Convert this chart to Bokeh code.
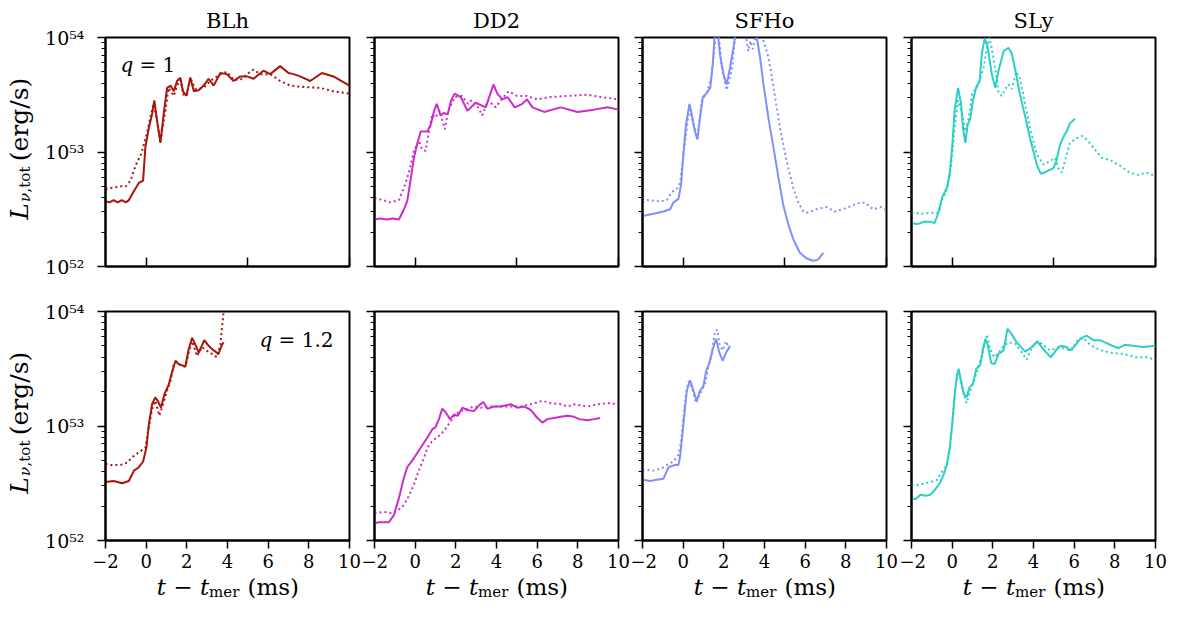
import math
from bokeh.plotting import figure
from bokeh.models import Range1d, FixedTicker, CustomJSTickFormatter, Label
from bokeh.layouts import gridplot
from bokeh.embed import file_html
from bokeh.resources import INLINE

# ---------------- data (t - t_mer in ms, log10 L in erg/s) ----------------
eos_names = ["BLh", "DD2", "SFHo", "SLy"]
eos_colors = ["#a8150c", "#cc2ccc", "#8090f8", "#2ad0c4"]
q_labels = ["1", "1.2"]

x_tick_values = [-2, 0, 2, 4, 6, 8, 10]
x_tick_labels = ["\u22122", "0", "2", "4", "6", "8", "10"]
top_x_ticks = [0, 5, 10]
y_tick_values = [1e52, 1e53, 1e54]
y_tick_labels = ["10\u2075\u00b2", "10\u2075\u00b3", "10\u2075\u2074"]

# q = 1 ---------------------------------------------------------------
blh_q1_t = [-2.0, -1.8, -1.6, -1.4, -1.2, -1.0, -0.85, -0.6, -0.36, -0.15, -0.04, 0.13, 0.29, 0.40, 0.54, 0.70, 0.86, 1.03, 1.20, 1.36, 1.52, 1.68, 1.81, 1.98, 2.17, 2.34, 2.58, 2.83, 3.07, 3.32, 3.65, 3.97, 4.30, 4.63, 4.96, 5.28, 5.77, 6.10, 6.59, 7.00, 7.25, 7.57, 8.07, 8.64, 9.21, 9.70, 10.0]
blh_q1_L = [52.57, 52.56, 52.58, 52.56, 52.58, 52.56, 52.58, 52.66, 52.73, 52.75, 53.04, 53.21, 53.33, 53.45, 53.27, 53.08, 53.33, 53.56, 53.58, 53.53, 53.62, 53.65, 53.53, 53.49, 53.65, 53.53, 53.54, 53.58, 53.64, 53.58, 53.69, 53.68, 53.62, 53.66, 53.66, 53.64, 53.71, 53.68, 53.75, 53.69, 53.68, 53.66, 53.62, 53.69, 53.66, 53.61, 53.58]
blh_q1_t_d = [-2.0, -1.6, -1.2, -1.0, -0.77, -0.6, -0.45, -0.25, 0.05, 0.2, 0.37, 0.55, 0.70, 0.95, 1.1, 1.36, 1.52, 1.68, 1.85, 2.0, 2.17, 2.42, 2.83, 3.15, 3.65, 3.97, 4.3, 4.63, 4.96, 5.28, 5.6, 6.1, 6.59, 7.08, 7.57, 8.56, 9.21, 10.0]
blh_q1_L_d = [52.675, 52.69, 52.70, 52.70, 52.75, 52.84, 52.91, 52.98, 53.17, 53.30, 53.42, 53.25, 53.10, 53.36, 53.56, 53.49, 53.58, 53.63, 53.49, 53.50, 53.65, 53.55, 53.56, 53.62, 53.68, 53.70, 53.63, 53.63, 53.68, 53.72, 53.68, 53.68, 53.62, 53.58, 53.57, 53.56, 53.53, 53.51]

dd2_q1_t = [-2.0, -1.7, -1.4, -1.1, -0.8, -0.55, -0.39, -0.23, -0.06, 0.10, 0.27, 0.6, 0.77, 0.93, 1.06, 1.25, 1.4, 1.6, 1.77, 1.94, 2.24, 2.57, 2.98, 3.47, 3.85, 4.04, 4.29, 4.54, 4.9, 5.27, 5.5, 5.77, 6.34, 7.16, 7.98, 8.8, 9.46, 10.0]
dd2_q1_L = [52.41, 52.42, 52.41, 52.42, 52.41, 52.50, 52.57, 52.75, 52.95, 53.07, 53.18, 53.18, 53.24, 53.36, 53.42, 53.32, 53.34, 53.33, 53.45, 53.51, 53.48, 53.36, 53.43, 53.39, 53.59, 53.51, 53.46, 53.48, 53.39, 53.42, 53.46, 53.39, 53.35, 53.39, 53.35, 53.37, 53.39, 53.37]
dd2_q1_t_d = [-2.0, -1.6, -1.21, -0.8, -0.55, -0.31, -0.06, 0.18, 0.35, 0.51, 0.67, 0.84, 1.0, 1.2, 1.46, 1.62, 1.95, 2.3, 2.6, 2.77, 3.1, 3.3, 3.58, 3.96, 4.25, 4.6, 5.0, 5.5, 6.0, 6.65, 7.5, 8.48, 9.13, 10.0]
dd2_q1_L_d = [52.60, 52.58, 52.56, 52.58, 52.69, 52.82, 53.01, 53.10, 53.02, 53.01, 53.17, 53.33, 53.30, 53.36, 53.20, 53.36, 53.48, 53.49, 53.42, 53.45, 53.39, 53.32, 53.45, 53.39, 53.46, 53.53, 53.49, 53.49, 53.46, 53.48, 53.49, 53.50, 53.48, 53.46]

sfho_q1_t = [-2.0, -1.46, -0.97, -0.64, -0.48, -0.23, -0.1, 0.01, 0.14, 0.31, 0.42, 0.59, 0.70, 0.83, 0.97, 1.13, 1.33, 1.46, 1.54, 1.62, 1.7, 1.81, 1.98, 2.14, 2.31, 2.47, 2.55, 2.7, 3.0, 3.3, 3.55, 3.62, 3.78, 3.95, 4.19, 4.44, 4.68, 4.92, 5.17, 5.41, 5.74, 6.07, 6.4, 6.64, 6.89]
sfho_q1_L = [52.44, 52.46, 52.48, 52.50, 52.56, 52.59, 52.72, 52.98, 53.24, 53.42, 53.33, 53.17, 53.11, 53.30, 53.48, 53.51, 53.56, 53.77, 54.0, 54.1, 54.05, 53.85, 53.68, 53.59, 53.74, 53.91, 54.0, 54.15, 54.2, 54.15, 54.05, 54.0, 53.83, 53.59, 53.30, 53.04, 52.78, 52.54, 52.37, 52.24, 52.12, 52.07, 52.05, 52.06, 52.12]
sfho_q1_t_d = [-2.0, -1.8, -1.13, -0.8, -0.56, -0.31, -0.15, 0.1, 0.31, 0.51, 0.70, 0.91, 1.15, 1.38, 1.6, 1.72, 1.9, 2.14, 2.39, 2.55, 2.8, 3.05, 3.2, 3.31, 3.42, 3.56, 3.75, 3.9, 4.19, 4.44, 4.76, 5.09, 5.41, 5.66, 5.91, 6.15, 6.56, 7.05, 7.46, 8.03, 8.52, 8.93, 9.34, 9.75, 10.0]
sfho_q1_L_d = [52.56, 52.58, 52.57, 52.58, 52.65, 52.68, 52.73, 53.10, 53.39, 53.24, 53.13, 53.45, 53.51, 53.65, 54.0, 54.08, 53.74, 53.54, 53.71, 54.0, 54.15, 54.05, 53.88, 53.97, 53.90, 54.0, 54.08, 54.0, 53.83, 53.57, 53.21, 52.92, 52.69, 52.56, 52.48, 52.47, 52.50, 52.52, 52.48, 52.51, 52.55, 52.56, 52.50, 52.52, 52.49]

sly_q1_t = [-2.0, -1.72, -1.4, -1.07, -0.86, -0.66, -0.5, -0.25, -0.12, 0.0, 0.12, 0.29, 0.44, 0.53, 0.65, 0.76, 0.89, 1.02, 1.19, 1.35, 1.46, 1.6, 1.74, 1.95, 2.12, 2.28, 2.53, 2.77, 2.93, 3.1, 3.34, 3.59, 3.83, 4.16, 4.36, 4.65, 4.98, 5.14, 5.3, 5.47, 5.63, 5.79, 6.04]
sly_q1_L = [52.38, 52.37, 52.39, 52.39, 52.38, 52.48, 52.60, 52.69, 52.81, 53.04, 53.36, 53.56, 53.42, 53.21, 53.08, 53.24, 53.29, 53.45, 53.57, 53.62, 53.86, 53.99, 53.92, 53.68, 53.56, 53.71, 53.88, 53.91, 53.86, 53.72, 53.50, 53.31, 53.12, 52.89, 52.81, 52.83, 52.86, 52.93, 53.06, 53.13, 53.18, 53.25, 53.29]
sly_q1_t_d = [-2.0, -1.56, -1.07, -0.66, -0.5, -0.25, -0.07, 0.12, 0.29, 0.49, 0.65, 0.81, 0.97, 1.14, 1.3, 1.55, 1.71, 1.84, 1.95, 2.12, 2.28, 2.44, 2.61, 2.77, 2.93, 3.15, 3.34, 3.59, 3.83, 4.16, 4.49, 4.82, 5.06, 5.22, 5.39, 5.56, 5.79, 6.12, 6.37, 6.61, 6.94, 7.35, 7.76, 8.25, 8.74, 9.14, 9.55, 10.0]
sly_q1_L_d = [52.47, 52.46, 52.47, 52.47, 52.58, 52.68, 52.86, 53.21, 53.45, 53.33, 53.18, 53.29, 53.50, 53.55, 53.59, 53.74, 53.91, 54.0, 53.90, 53.72, 53.52, 53.49, 53.55, 53.59, 53.55, 53.70, 53.64, 53.42, 53.21, 52.98, 52.89, 52.92, 52.95, 52.86, 52.82, 52.93, 53.08, 53.12, 53.14, 53.11, 53.04, 52.95, 52.93, 52.88, 52.82, 52.80, 52.82, 52.79]

# q = 1.2 -------------------------------------------------------------
blh_q12_t = [-2.0, -1.6, -1.18, -0.85, -0.6, -0.36, -0.15, 0.01, 0.13, 0.29, 0.45, 0.57, 0.73, 0.90, 1.11, 1.27, 1.44, 1.6, 1.76, 1.93, 2.09, 2.26, 2.42, 2.58, 2.71, 2.86, 3.07, 3.32, 3.56, 3.73, 3.81]
blh_q12_L = [52.51, 52.52, 52.50, 52.52, 52.61, 52.64, 52.69, 52.81, 53.01, 53.19, 53.25, 53.22, 53.16, 53.28, 53.36, 53.47, 53.57, 53.54, 53.53, 53.52, 53.67, 53.77, 53.71, 53.64, 53.69, 53.75, 53.70, 53.66, 53.63, 53.71, 53.73]
blh_q12_t_d = [-2.0, -1.75, -1.26, -0.94, -0.6, -0.28, -0.04, 0.13, 0.29, 0.45, 0.65, 0.83, 1.03, 1.19, 1.36, 1.52, 1.76, 1.93, 2.09, 2.26, 2.5, 2.75, 2.96, 3.24, 3.48, 3.65, 3.73, 3.81, 3.86]
blh_q12_L_d = [52.67, 52.66, 52.66, 52.68, 52.74, 52.78, 52.81, 52.99, 53.15, 53.22, 53.09, 53.19, 53.31, 53.39, 53.54, 53.56, 53.52, 53.52, 53.64, 53.74, 53.61, 53.69, 53.66, 53.63, 53.60, 53.71, 53.86, 54.0, 54.1]

dd2_q12_t = [-2.0, -1.8, -1.29, -1.05, -0.8, -0.55, -0.39, -0.06, 0.27, 0.6, 0.84, 1.0, 1.17, 1.33, 1.5, 1.71, 1.91, 2.1, 2.32, 2.56, 2.89, 3.14, 3.35, 3.55, 3.88, 4.2, 4.7, 5.03, 5.36, 5.68, 6.01, 6.26, 6.5, 6.83, 7.16, 7.49, 7.82, 8.07, 8.48, 8.8, 9.1]
dd2_q12_L = [52.15, 52.16, 52.16, 52.22, 52.37, 52.55, 52.64, 52.72, 52.81, 52.90, 52.97, 52.99, 53.06, 53.15, 53.12, 53.06, 53.10, 53.09, 53.16, 53.14, 53.13, 53.18, 53.21, 53.15, 53.17, 53.17, 53.19, 53.16, 53.17, 53.14, 53.07, 53.03, 53.06, 53.07, 53.08, 53.09, 53.08, 53.06, 53.05, 53.06, 53.07]
dd2_q12_t_d = [-2.0, -1.55, -1.13, -0.88, -0.55, -0.31, -0.06, 0.18, 0.43, 0.6, 0.84, 1.09, 1.33, 1.55, 1.74, 1.96, 2.23, 2.56, 2.89, 3.22, 3.55, 3.88, 4.2, 4.7, 5.2, 5.68, 6.26, 6.67, 7.16, 7.49, 7.82, 8.48, 8.97, 9.46, 10.0]
dd2_q12_L_d = [52.24, 52.25, 52.24, 52.26, 52.31, 52.39, 52.49, 52.61, 52.72, 52.81, 52.87, 52.90, 52.94, 52.99, 53.04, 53.10, 53.13, 53.15, 53.17, 53.16, 53.17, 53.17, 53.17, 53.17, 53.17, 53.19, 53.22, 53.20, 53.19, 53.17, 53.19, 53.17, 53.19, 53.20, 53.19]

sfho_q12_t = [-2.0, -1.62, -1.3, -0.97, -0.72, -0.4, -0.23, -0.15, -0.07, 0.06, 0.18, 0.34, 0.5, 0.67, 0.83, 1.0, 1.13, 1.29, 1.45, 1.62, 1.78, 1.94, 2.11, 2.3]
sfho_q12_L = [52.53, 52.52, 52.53, 52.54, 52.64, 52.66, 52.66, 52.74, 52.87, 53.10, 53.31, 53.40, 53.31, 53.22, 53.31, 53.35, 53.48, 53.55, 53.67, 53.76, 53.64, 53.57, 53.64, 53.70]
sfho_q12_t_d = [-2.0, -1.46, -1.05, -0.8, -0.48, -0.23, -0.1, 0.01, 0.14, 0.26, 0.42, 0.64, 0.83, 1.08, 1.24, 1.4, 1.57, 1.68, 1.78, 1.94, 2.11, 2.27]
sfho_q12_L_d = [52.62, 52.61, 52.63, 52.66, 52.69, 52.75, 52.87, 53.07, 53.28, 53.39, 53.34, 53.20, 53.28, 53.37, 53.52, 53.62, 53.83, 53.84, 53.72, 53.66, 53.74, 53.67]

sly_q12_t = [-2.0, -1.8, -1.56, -1.31, -1.07, -0.82, -0.61, -0.41, -0.25, -0.12, 0.0, 0.13, 0.24, 0.32, 0.44, 0.57, 0.70, 0.86, 1.02, 1.19, 1.38, 1.51, 1.63, 1.76, 1.92, 2.09, 2.28, 2.53, 2.72, 2.93, 3.18, 3.59, 3.92, 4.19, 4.49, 4.85, 5.14, 5.34, 5.63, 5.79, 6.04, 6.29, 6.61, 6.94, 7.27, 7.76, 8.17, 8.5, 8.9, 9.39, 10.0]
sly_q12_L = [52.37, 52.36, 52.40, 52.39, 52.40, 52.45, 52.50, 52.58, 52.67, 52.81, 53.01, 53.28, 53.45, 53.50, 53.39, 53.28, 53.25, 53.34, 53.37, 53.50, 53.53, 53.67, 53.76, 53.70, 53.55, 53.54, 53.63, 53.66, 53.85, 53.80, 53.73, 53.65, 53.69, 53.74, 53.67, 53.60, 53.67, 53.70, 53.69, 53.66, 53.70, 53.76, 53.79, 53.75, 53.75, 53.71, 53.68, 53.71, 53.70, 53.69, 53.70]
sly_q12_t_d = [-2.0, -1.56, -1.07, -0.74, -0.5, -0.25, -0.12, 0.03, 0.16, 0.32, 0.54, 0.70, 0.90, 1.09, 1.30, 1.51, 1.71, 1.87, 2.07, 2.28, 2.53, 2.77, 3.10, 3.43, 3.67, 3.92, 4.24, 4.52, 4.82, 5.23, 5.63, 5.87, 6.12, 6.45, 6.78, 7.19, 7.76, 8.41, 9.06, 9.55, 10.0]
sly_q12_L_d = [52.48, 52.49, 52.51, 52.53, 52.60, 52.66, 52.79, 53.07, 53.34, 53.48, 53.31, 53.20, 53.31, 53.40, 53.52, 53.64, 53.80, 53.67, 53.60, 53.64, 53.70, 53.73, 53.72, 53.64, 53.58, 53.69, 53.74, 53.70, 53.66, 53.69, 53.67, 53.66, 53.74, 53.77, 53.71, 53.67, 53.64, 53.63, 53.60, 53.60, 53.58]

series = [
    [(blh_q1_t, blh_q1_L, blh_q1_t_d, blh_q1_L_d),
     (dd2_q1_t, dd2_q1_L, dd2_q1_t_d, dd2_q1_L_d),
     (sfho_q1_t, sfho_q1_L, sfho_q1_t_d, sfho_q1_L_d),
     (sly_q1_t, sly_q1_L, sly_q1_t_d, sly_q1_L_d)],
    [(blh_q12_t, blh_q12_L, blh_q12_t_d, blh_q12_L_d),
     (dd2_q12_t, dd2_q12_L, dd2_q12_t_d, dd2_q12_L_d),
     (sfho_q12_t, sfho_q12_L, sfho_q12_t_d, sfho_q12_L_d),
     (sly_q12_t, sly_q12_L, sly_q12_t_d, sly_q12_L_d)],
]

# ---------------- layout ----------------
FONT = "DejaVu Serif"
FW, FH = 244, 229
YLAB_W = 40          # width of the strip that carries the y-axis title
XLAB_H = 40          # height of the strip that carries the x-axis titles
col_left = [65, 13, 12, 12]
col_right = [12, 12, 13, 14]
row_top = [37, 25]
row_bottom = [20, 34]
DY = 7               # measured baseline correction of Label text

y_minor = [k * 10.0 ** e for e in (52, 53) for k in range(2, 10)]

fmt_code = """
const i = vals.findIndex(v => Math.abs(v - tick) <= 1e-6 * Math.max(1, Math.abs(v)));
return i >= 0 ? labs[i] : '';
"""


def add_label(p, x, y, text, size, style="normal", align="left", angle=0.0, baseline="alphabetic"):
    p.add_layout(Label(x=x, y=y, x_units="screen", y_units="screen", text=text,
                       text_font=FONT, text_font_size=f"{size}px",
                       text_font_style=style, text_align=align,
                       text_baseline=baseline, angle=angle,
                       text_color="black"))


def blank(frame_w, frame_h, left, right, top, bottom):
    b = figure(frame_width=frame_w, frame_height=frame_h,
               x_range=Range1d(0, 1), y_range=Range1d(0, 1),
               x_axis_location=None, y_axis_location=None,
               output_backend="svg", toolbar_location=None, title=None,
               min_border_left=left, min_border_right=right,
               min_border_top=top, min_border_bottom=bottom)
    b.xgrid.visible = False
    b.ygrid.visible = False
    b.outline_line_color = None
    b.background_fill_color = "white"
    b.border_fill_color = "white"
    return b


rows = []
for r in range(2):
    # strip with the rotated y-axis title (pieces centred on their own midpoints)
    yl = blank(YLAB_W, FH, 0, 0, row_top[r], row_bottom[r])
    a = math.pi / 2
    add_label(yl, 18.5, 55, "L", 25, style="italic", align="center", angle=a, baseline="middle")
    add_label(yl, 24.5, 69, "\u03bd", 15, style="italic", align="center", angle=a, baseline="middle")
    add_label(yl, 24.5, 87, ",tot", 15, align="center", angle=a, baseline="middle")
    add_label(yl, 18.5, 147, "(erg/s)", 25, align="center", angle=a, baseline="middle")
    row_figs = [yl]
    for c in range(4):
        p = figure(frame_width=FW, frame_height=FH,
                   x_range=Range1d(-2, 10), y_range=Range1d(1e52, 1e54),
                   y_axis_type="log", output_backend="svg",
                   toolbar_location=None,
                   title=(eos_names[c] if r == 0 else None),
                   min_border_left=col_left[c], min_border_right=col_right[c],
                   min_border_top=row_top[r], min_border_bottom=row_bottom[r])
        if r == 0:
            p.title.align = "center"
            p.title.text_font = FONT
            p.title.text_font_size = "21px"
            p.title.text_font_style = "normal"
            p.title.text_color = "black"
            p.title.standoff = 10
        p.xgrid.visible = False
        p.ygrid.visible = False
        p.outline_line_color = "black"
        p.outline_line_width = 2
        p.background_fill_color = "white"
        p.border_fill_color = "white"

        # y axis
        ya = p.yaxis[0]
        ya.ticker = FixedTicker(ticks=y_tick_values, minor_ticks=y_minor)
        ya.axis_line_width = 2
        ya.major_tick_line_width = 1.5
        ya.minor_tick_line_width = 1.2
        ya.major_tick_out = 8
        ya.major_tick_in = 0
        ya.minor_tick_out = 4
        ya.minor_tick_in = 0
        ya.formatter = CustomJSTickFormatter(args=dict(vals=y_tick_values, labs=y_tick_labels), code=fmt_code)
        if c == 0:
            ya.major_label_text_font = FONT
            ya.major_label_text_font_size = "19px"
            ya.major_label_text_color = "black"
            ya.major_label_standoff = 13
        else:
            ya.major_label_text_color = None
            ya.major_label_standoff = 0

        # x axis
        xa = p.xaxis[0]
        xa.axis_line_width = 2
        xa.major_tick_line_width = 1.5
        xa.minor_tick_line_color = None
        xa.formatter = CustomJSTickFormatter(args=dict(vals=x_tick_values, labs=x_tick_labels), code=fmt_code)
        if r == 0:
            xa.ticker = FixedTicker(ticks=top_x_ticks)
            xa.major_tick_in = 9
            xa.major_tick_out = 0
            xa.major_label_text_color = None
            xa.major_label_standoff = 0
        else:
            xa.ticker = FixedTicker(ticks=x_tick_values)
            xa.major_tick_in = 0
            xa.major_tick_out = 8
            xa.major_label_text_font = FONT
            xa.major_label_text_font_size = "18px"
            xa.major_label_text_color = "black"
            xa.major_label_standoff = 5

        # data
        ts, Ls, td, Ld = series[r][c]
        col = eos_colors[c]
        p.line(ts, [10.0 ** v for v in Ls], line_color=col, line_width=2)
        p.line(td, [10.0 ** v for v in Ld], line_color=col, line_width=2, line_dash="2 3")

        # q labels
        if c == 0 and r == 0:
            add_label(p, 15, 194.5 + DY, "q", 20, style="italic")
            add_label(p, 34, 194.5 + DY, "= " + q_labels[0], 20)
        if c == 0 and r == 1:
            add_label(p, 228, 193.5 + DY, "= " + q_labels[1], 20, align="right")
            add_label(p, 166.7, 193.5 + DY, "q", 20, style="italic", align="right")
        row_figs.append(p)
    rows.append(row_figs)

# strip with the x-axis titles
xrow = [None]
for c in range(4):
    xl = blank(FW, XLAB_H, col_left[c], col_right[c], 0, 0)
    base = XLAB_H - 22 + DY + 3
    add_label(xl, 51.3, base, "t \u2212 t", 23, style="italic")
    add_label(xl, 103.6, base - 5, "mer", 15)
    add_label(xl, 142, base, "(ms)", 23)
    xrow.append(xl)
rows.append(xrow)

grid = gridplot(rows, toolbar_location=None)
open("out.html", "w").write(file_html(grid, INLINE, title="Neutrino luminosity"))
